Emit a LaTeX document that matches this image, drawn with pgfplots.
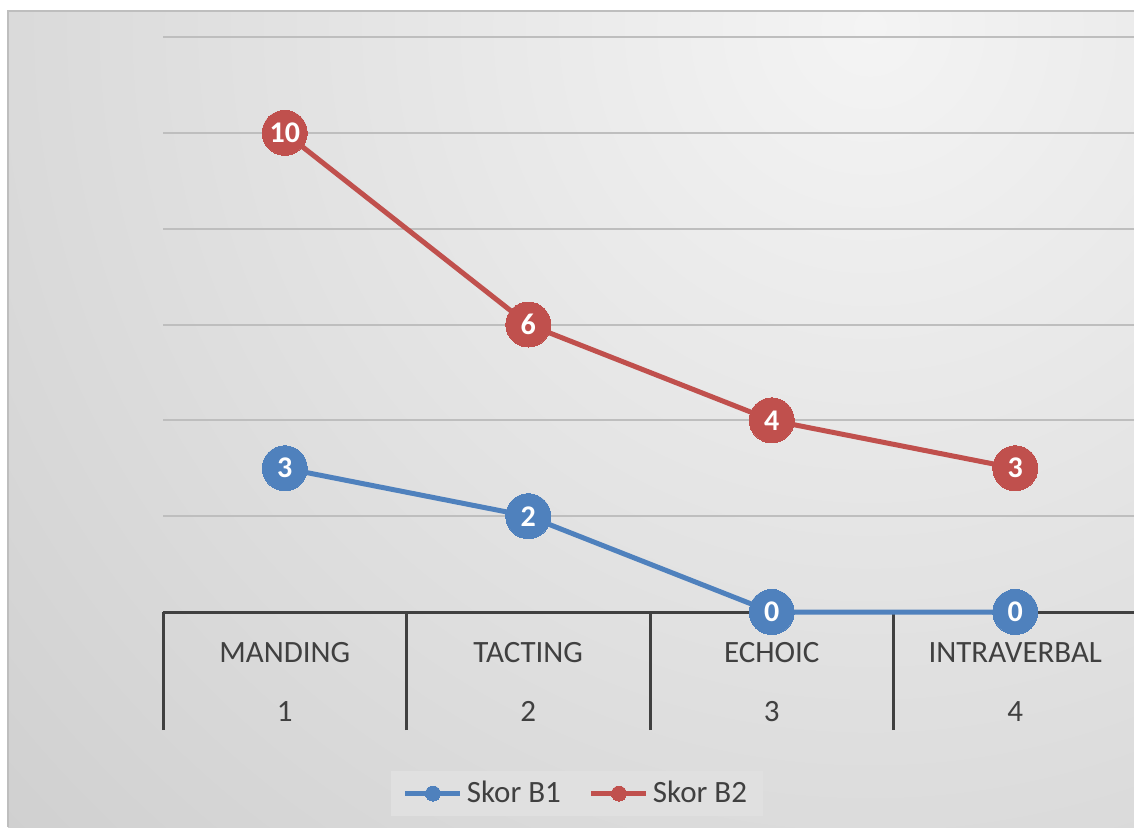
\documentclass[border=0pt]{standalone}
\usepackage{pgfplots}
\pgfplotsset{compat=1.18}
\usepackage{fontspec}
\setmainfont{Carlito}
\definecolor{bOne}{HTML}{4F81BD}
\definecolor{bTwo}{HTML}{C0504D}
\definecolor{txt}{HTML}{404040}
\definecolor{gridc}{HTML}{BEBEBE}
\definecolor{gridtop}{HTML}{D9D9D9}
\definecolor{bginner}{HTML}{F4F4F4}
\definecolor{bgouter}{HTML}{C2C2C2}
\definecolor{legfill}{HTML}{E0E0E0}
\newcommand\lblfont{\fontsize{15.5}{18.6}\selectfont}
\begin{document}
\begin{tikzpicture}
\path[use as bounding box] (0,0) rectangle (567pt,413.5pt);
\fill[white] (0,0) rectangle (567pt,413.5pt);
\begin{scope}
\clip (4pt,0) rectangle (567pt,408pt);
\fill[bgouter] (4pt,0) rectangle (567pt,408pt);
\shade[inner color=bginner, outer color=bgouter] (435pt,400pt) circle (820pt);
\end{scope}
\draw[color=gridc, line width=0.8pt] (4pt,0) -- (4pt,408pt) -- (567pt,408pt);
\begin{axis}[
  at={(81.5pt,107.5pt)}, anchor=south west,
  scale only axis, width=487pt, height=287.5pt,
  xmin=0.5, xmax=4.5, ymin=0, ymax=12,
  clip=false,
  /pgf/number format/assume math mode=true,
  axis lines*=left,
  x axis line style={draw=txt, line width=1.5pt},
  y axis line style={draw=none},
  ytick={2,4,6,8,10}, yticklabels={},
  major y tick style={draw=none},
  ymajorgrids, major grid style={draw=gridc, line width=1pt},
  extra y ticks={12}, extra y tick labels={},
  extra y tick style={grid style={draw=gridtop, line width=1pt}, tick style={draw=none}},
  xtick={1,2,3,4},
  xticklabels={{MANDING\\[11pt]1},{TACTING\\[11pt]2},{ECHOIC\\[11pt]3},{INTRAVERBAL\\[11pt]4}},
  major x tick style={draw=none},
  xtick align=outside,
  minor xtick={0.5,1.5,2.5,3.5},
  minor tick length=59pt,
  minor x tick style={draw=txt, line width=1.5pt},
  xticklabel style={align=center, font=\lblfont, text=txt, anchor=north, yshift=-7.5pt},
  legend style={at={(0.425,-0.3157)}, anchor=center, draw=none, fill=legfill,
     legend columns=2, font=\lblfont, text=txt, inner xsep=6pt, inner ysep=3pt,
     /tikz/every even column/.append style={column sep=12pt}},
  legend image code/.code={\draw[#1, mark size=3.75pt, mark repeat=2, mark phase=2] plot coordinates {(0pt,0pt) (13.75pt,0pt) (27.5pt,0pt)};},
  nodes near coords={\pgfmathprintnumber[assume math mode=true]{\pgfplotspointmeta}},
  every node near coord/.append style={anchor=center, text=white, font=\bfseries\fontsize{15}{15}\selectfont},
]
\addplot[bOne, line width=2.5pt, line join=round, mark=*, mark size=11.25pt,
  mark options={solid, fill=bOne, draw=bOne, line width=0pt}]
  coordinates {(1,3) (2,2) (3,0) (4,0)};
\addlegendentry{Skor B1}
\addplot[bTwo, line width=2.5pt, line join=round, mark=*, mark size=11.25pt,
  mark options={solid, fill=bTwo, draw=bTwo, line width=0pt}]
  coordinates {(1,10) (2,6) (3,4) (4,3)};
\addlegendentry{Skor B2}
\end{axis}
\end{tikzpicture}
\end{document}
